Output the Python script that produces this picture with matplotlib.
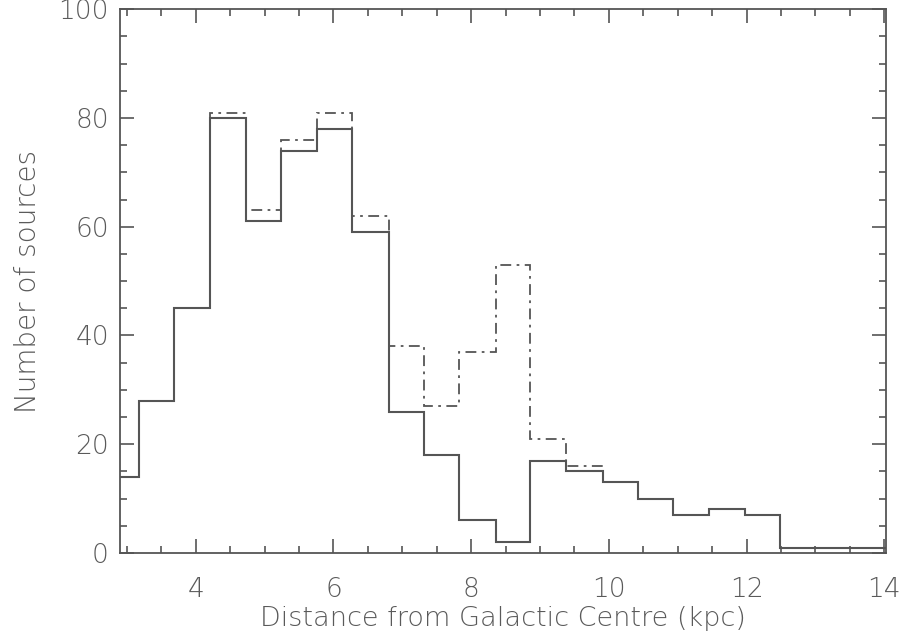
import numpy as np
import matplotlib
matplotlib.use('Agg')
import matplotlib.pyplot as plt
from matplotlib.ticker import MultipleLocator

# bordes de los bins (kpc) y cuentas
edges = [2.66, 3.18, 3.69, 4.21, 4.73, 5.24, 5.76, 6.27, 6.80, 7.31, 7.83,
         8.36, 8.86, 9.37, 9.91, 10.42, 10.93, 11.46, 11.97, 12.48, 13.00,
         13.52, 14.04]
counts_solid = [14, 28, 45, 80, 61, 74, 78, 59, 26, 18, 6, 2, 17, 15, 13,
                10, 7, 8, 7, 1, 1, 1]
counts_dash = [14, 28, 45, 81, 63, 76, 81, 62, 38, 27, 37, 53, 21, 16, 13,
               10, 7, 8, 7, 1, 1, 1]

gris = '#555555'
txt = '#5a5a5a'
plt.rcParams['font.family'] = ['DejaVu Sans']
plt.rcParams['font.weight'] = 'light'
plt.rcParams['axes.labelweight'] = 'light'

fig = plt.figure(figsize=(9.04, 6.4), dpi=100)
ax = fig.add_axes([0.1327, 0.136, 0.8471, 0.8495])

ax.stairs(counts_dash, edges, baseline=None, color=gris, lw=1.3,
          linestyle=(0, (6, 3, 1.5, 3)), zorder=2)
ax.stairs(counts_solid, edges, baseline=None, color=gris, lw=1.5, zorder=3)

ax.set_xlim(2.9, 14.02)
ax.set_ylim(0, 100)

ax.xaxis.set_major_locator(MultipleLocator(2))
ax.xaxis.set_minor_locator(MultipleLocator(0.5))
ax.yaxis.set_major_locator(MultipleLocator(20))
ax.yaxis.set_minor_locator(MultipleLocator(5))

ax.tick_params(which='both', direction='in', top=True, right=True,
               color=gris, width=1.2, labelcolor=txt, labelsize=19)
ax.tick_params(which='major', length=10)
ax.tick_params(which='minor', length=5)
ax.tick_params(axis='x', which='major', pad=17)
ax.tick_params(axis='y', which='major', pad=8)
for s in ax.spines.values():
    s.set_color(gris)
    s.set_linewidth(1.3)

ax.set_xlabel('Distance from Galactic Centre (kpc)', fontsize=19.5, color=txt,
              labelpad=3, fontweight='light')
ax.set_ylabel('Number of sources', fontsize=20, color=txt, labelpad=12,
              fontweight='light')

fig.savefig('out.png', dpi=100, facecolor='white')
